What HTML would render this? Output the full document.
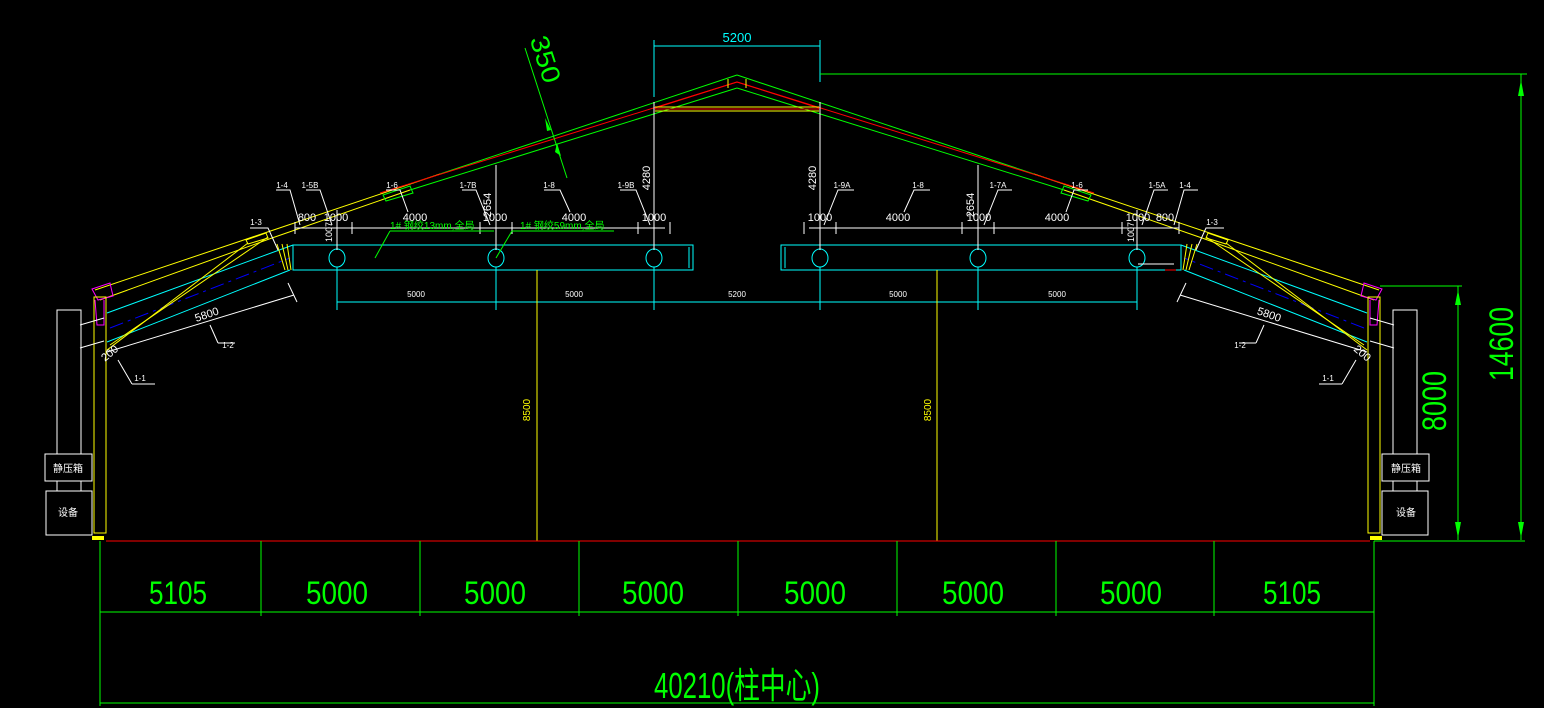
<!DOCTYPE html>
<html><head><meta charset="utf-8"><style>
html,body{margin:0;padding:0;background:#000;width:1544px;height:708px;overflow:hidden}
svg{display:block}
text{font-family:"Liberation Sans","Noto Sans CJK SC",sans-serif}
</style></head><body>
<svg width="1544" height="708" viewBox="0 0 1544 708" xmlns="http://www.w3.org/2000/svg">
<defs>
<g id="half" fill="none" stroke-width="1">
  <line x1="95" y1="290" x2="440" y2="174" stroke="#ff0"/>
  <line x1="440" y1="174" x2="737" y2="75" stroke="#0f0"/>
  <line x1="100" y1="300" x2="272" y2="238" stroke="#ff0"/>
  <line x1="272" y1="238" x2="410" y2="190" stroke="#ff0"/>
  <line x1="410" y1="190" x2="737" y2="88" stroke="#0f0"/>
  <line x1="380" y1="193" x2="737" y2="82" stroke="#f00"/>
  <line x1="655" y1="108" x2="737" y2="82" stroke="#f00"/>
  <polygon points="383,195 410,186 413,193 386,201" stroke="#0f0"/>
  <line x1="655" y1="107" x2="737" y2="107" stroke="#ff0"/>
  <line x1="655" y1="111" x2="737" y2="111" stroke="#ff0"/>
  <line x1="655" y1="109" x2="737" y2="109" stroke="#f00"/>
  <line x1="728" y1="79" x2="728" y2="88" stroke="#ff0"/>
  <path d="M92,289 L110,283 L113,296 L98,300 Z" stroke="#f0f"/>
  <path d="M95,300 L97,325 L104,325 L104,300" stroke="#f0f"/>
  <rect x="94" y="297" width="12" height="236" stroke="#ff0"/>
  <rect x="92" y="536" width="12" height="4" fill="#ff0" stroke="none"/>
  <line x1="107" y1="313" x2="293" y2="245" stroke="#0ff"/>
  <line x1="107" y1="342" x2="290" y2="270" stroke="#0ff"/>
  <line x1="110" y1="328" x2="290" y2="258" stroke="#00f" stroke-dasharray="14,5,3,5"/>
  <line x1="107" y1="350" x2="248" y2="243" stroke="#ff0"/>
  <line x1="110" y1="345" x2="268" y2="237" stroke="#ff0"/>
  <polygon points="246,240 266,233 268,238 248,244" stroke="#ff0"/>
  <line x1="277" y1="244" x2="285" y2="270" stroke="#ff0"/>
  <line x1="282" y1="244" x2="288" y2="270" stroke="#ff0"/>
  <line x1="287" y1="244" x2="291" y2="270" stroke="#ff0"/>
  <line x1="293" y1="245" x2="293" y2="270" stroke="#ff0"/>
  <line x1="107" y1="352" x2="294" y2="295" stroke="#fff"/>
  <line x1="288" y1="283" x2="297" y2="302" stroke="#fff"/>
  <line x1="80" y1="325" x2="104" y2="318" stroke="#fff"/>
  <line x1="80" y1="348" x2="104" y2="341" stroke="#fff"/>
  <line x1="210" y1="325" x2="218" y2="343" stroke="#fff"/>
  <line x1="218" y1="343" x2="235" y2="343" stroke="#fff"/>
  <line x1="118" y1="360" x2="132" y2="384" stroke="#fff"/>
  <line x1="132" y1="384" x2="155" y2="384" stroke="#fff"/>
  <rect x="57" y="310" width="24" height="144" stroke="#fff"/>
  <rect x="45" y="454" width="47" height="27" stroke="#fff"/>
  <line x1="57" y1="481" x2="57" y2="491" stroke="#fff"/>
  <line x1="81" y1="481" x2="81" y2="491" stroke="#fff"/>
  <rect x="46" y="491" width="46" height="44" stroke="#fff"/>
  <rect x="293" y="245" width="400" height="25" stroke="#0ff"/>
  <line x1="689" y1="247" x2="689" y2="268" stroke="#0ff"/>
  <ellipse cx="337" cy="258" rx="8" ry="9" stroke="#0ff"/>
  <ellipse cx="496" cy="258" rx="8" ry="9" stroke="#0ff"/>
  <ellipse cx="654" cy="258" rx="8" ry="9" stroke="#0ff"/>
  <line x1="337" y1="267" x2="337" y2="310" stroke="#0ff"/>
  <line x1="496" y1="267" x2="496" y2="310" stroke="#0ff"/>
  <line x1="654" y1="267" x2="654" y2="310" stroke="#0ff"/>
  <line x1="337" y1="302" x2="737" y2="302" stroke="#0ff"/>
  <line x1="654" y1="102" x2="654" y2="250" stroke="#fff"/>
  <line x1="496" y1="165" x2="496" y2="250" stroke="#fff"/>
  <line x1="337" y1="210" x2="337" y2="250" stroke="#fff"/>
  <line x1="295" y1="228" x2="665" y2="228" stroke="#fff"/>
  <g stroke="#fff"><line x1="295" y1="222" x2="295" y2="234"/><line x1="352" y1="222" x2="352" y2="234"/><line x1="480" y1="222" x2="480" y2="234"/><line x1="512" y1="222" x2="512" y2="234"/><line x1="638" y1="222" x2="638" y2="234"/><line x1="670" y1="222" x2="670" y2="234"/></g>
  <g stroke="#fff">
   <polyline points="276,190 290,190 300,225"/><polyline points="306,190 320,190 332,225"/>
   <polyline points="386,190 400,190 408,212"/><polyline points="462,190 476,190 490,225"/>
   <polyline points="544,190 560,190 570,212"/><polyline points="620,190 636,190 650,225"/>
   <polyline points="250,228 268,228 278,250"/>
  </g>
  <line x1="537" y1="270" x2="537" y2="541" stroke="#ff0"/>
</g>
</defs>
<use href="#half"/>
<use href="#half" transform="translate(1474,0) scale(-1,1)"/>
<g stroke="#0f0">
 <line x1="375" y1="258" x2="390" y2="231"/><line x1="390" y1="231" x2="494" y2="231"/>
 <line x1="496" y1="258" x2="512" y2="231"/><line x1="512" y1="231" x2="614" y2="231"/>
</g>

<line x1="106" y1="541" x2="1370" y2="541" stroke="#f00"/>
<g stroke="#0ff" fill="none">
 <line x1="654" y1="40" x2="654" y2="97"/><line x1="820" y1="40" x2="820" y2="82"/>
 <line x1="654" y1="46" x2="820" y2="46"/>
</g>
<text x="737" y="42" fill="#0ff" font-size="13" text-anchor="middle">5200</text>
<line x1="820" y1="74" x2="1527" y2="74" stroke="#0f0"/>
<line x1="525" y1="48" x2="567" y2="178" stroke="#0f0"/>
<polygon points="545,118 551,130 547,131" fill="#0f0"/>
<polygon points="557,143 561,156 555,152" fill="#0f0"/>
<text transform="translate(537,62) rotate(72)" fill="#0f0" font-size="26" text-anchor="middle" textLength="48" lengthAdjust="spacingAndGlyphs">350</text>

<g stroke="#0f0">
 <line x1="1521" y1="74" x2="1521" y2="540"/>
 <line x1="1458" y1="286" x2="1458" y2="540"/>
 <line x1="1380" y1="286" x2="1462" y2="286"/>
 <line x1="1374" y1="541" x2="1525" y2="541"/>
</g>
<polygon points="1518,96 1521,80 1524,96" fill="#0f0"/>
<polygon points="1518,522 1521,538 1524,522" fill="#0f0"/>
<polygon points="1455,305 1458,290 1461,305" fill="#0f0"/>
<polygon points="1455,522 1458,538 1461,522" fill="#0f0"/>
<text transform="translate(1513,344) rotate(-90)" fill="#0f0" font-size="34" text-anchor="middle" textLength="74" lengthAdjust="spacingAndGlyphs">14600</text>
<text transform="translate(1446,401) rotate(-90)" fill="#0f0" font-size="34" text-anchor="middle" textLength="60" lengthAdjust="spacingAndGlyphs">8000</text>

<g stroke="#0f0">
 <line x1="100" y1="541" x2="100" y2="706"/><line x1="1374" y1="541" x2="1374" y2="706"/>
 <line x1="261" y1="541" x2="261" y2="616"/><line x1="420" y1="541" x2="420" y2="616"/>
 <line x1="579" y1="541" x2="579" y2="616"/><line x1="738" y1="541" x2="738" y2="616"/>
 <line x1="897" y1="541" x2="897" y2="616"/><line x1="1056" y1="541" x2="1056" y2="616"/>
 <line x1="1214" y1="541" x2="1214" y2="616"/>
 <line x1="100" y1="612" x2="1374" y2="612"/>
 <line x1="100" y1="703" x2="1374" y2="703"/>
</g>
<g fill="#0f0" font-size="32" text-anchor="middle">
 <text x="178" y="604" textLength="58" lengthAdjust="spacingAndGlyphs">5105</text>
 <text x="337" y="604" textLength="62" lengthAdjust="spacingAndGlyphs">5000</text>
 <text x="495" y="604" textLength="62" lengthAdjust="spacingAndGlyphs">5000</text>
 <text x="653" y="604" textLength="62" lengthAdjust="spacingAndGlyphs">5000</text>
 <text x="815" y="604" textLength="62" lengthAdjust="spacingAndGlyphs">5000</text>
 <text x="973" y="604" textLength="62" lengthAdjust="spacingAndGlyphs">5000</text>
 <text x="1131" y="604" textLength="62" lengthAdjust="spacingAndGlyphs">5000</text>
 <text x="1292" y="604" textLength="58" lengthAdjust="spacingAndGlyphs">5105</text>
 <text x="737" y="698" font-size="36" textLength="166" lengthAdjust="spacingAndGlyphs">40210(柱中心)</text>
</g>

<g fill="#fff" font-size="11" text-anchor="middle">
 <text x="307" y="221">800</text><text x="336" y="221">1000</text><text x="415" y="221">4000</text>
 <text x="495" y="221">1000</text><text x="574" y="221">4000</text><text x="654" y="221">1000</text>
 <text x="820" y="221">1000</text><text x="898" y="221">4000</text><text x="979" y="221">1000</text>
 <text x="1057" y="221">4000</text><text x="1138" y="221">1000</text><text x="1165" y="221">800</text>
 <g font-size="8">
 <text x="282" y="188">1-4</text><text x="310" y="188">1-5B</text><text x="392" y="188">1-6</text>
 <text x="468" y="188">1-7B</text><text x="549" y="188">1-8</text><text x="626" y="188">1-9B</text>
 <text x="842" y="188">1-9A</text><text x="918" y="188">1-8</text><text x="998" y="188">1-7A</text>
 <text x="1077" y="188">1-6</text><text x="1157" y="188">1-5A</text><text x="1185" y="188">1-4</text>
 <text x="256" y="225">1-3</text><text x="1212" y="225">1-3</text>
 <text x="228" y="348">1-2</text><text x="1240" y="348">1-2</text>
 <text x="140" y="381">1-1</text><text x="1328" y="381">1-1</text>
 </g>
 <text transform="translate(208,318) rotate(-19)">5800</text>
 <text transform="translate(1268,318) rotate(19)">5800</text>
 <text transform="translate(112,356) rotate(-40)">200</text>
 <text transform="translate(1360,356) rotate(40)">200</text>
 <text transform="translate(650,178) rotate(-90)">4280</text>
 <text transform="translate(816,178) rotate(-90)">4280</text>
 <text transform="translate(491,205) rotate(-90)">2654</text>
 <text transform="translate(974,205) rotate(-90)">2654</text>
 <text transform="translate(332,232) rotate(-90)" font-size="9">1007</text>
 <text transform="translate(1134,232) rotate(-90)" font-size="9">1007</text>
 <text x="68" y="472" font-size="10">静压箱</text><text x="68" y="516" font-size="10">设备</text>
 <text x="1406" y="472" font-size="10">静压箱</text><text x="1406" y="516" font-size="10">设备</text>
</g>
<g fill="#fff" font-size="8" text-anchor="middle">
 <text x="416" y="297">5000</text><text x="574" y="297">5000</text><text x="737" y="297">5200</text>
 <text x="898" y="297">5000</text><text x="1057" y="297">5000</text>
</g>
<g fill="#ff0" font-size="10" text-anchor="middle">
 <text transform="translate(530,410) rotate(-90)">8500</text>
 <text transform="translate(931,410) rotate(-90)">8500</text>
</g>
<g fill="#0f0" font-size="10">
 <text x="390" y="229">1# 钢绞13mm,全局</text>
 <text x="520" y="229">1# 钢绞59mm,全局</text>
</g>
<line x1="1138" y1="264" x2="1174" y2="264" stroke="#fff"/>
<line x1="1165" y1="270" x2="1176" y2="270" stroke="#f00"/>
</svg>
</body></html>
